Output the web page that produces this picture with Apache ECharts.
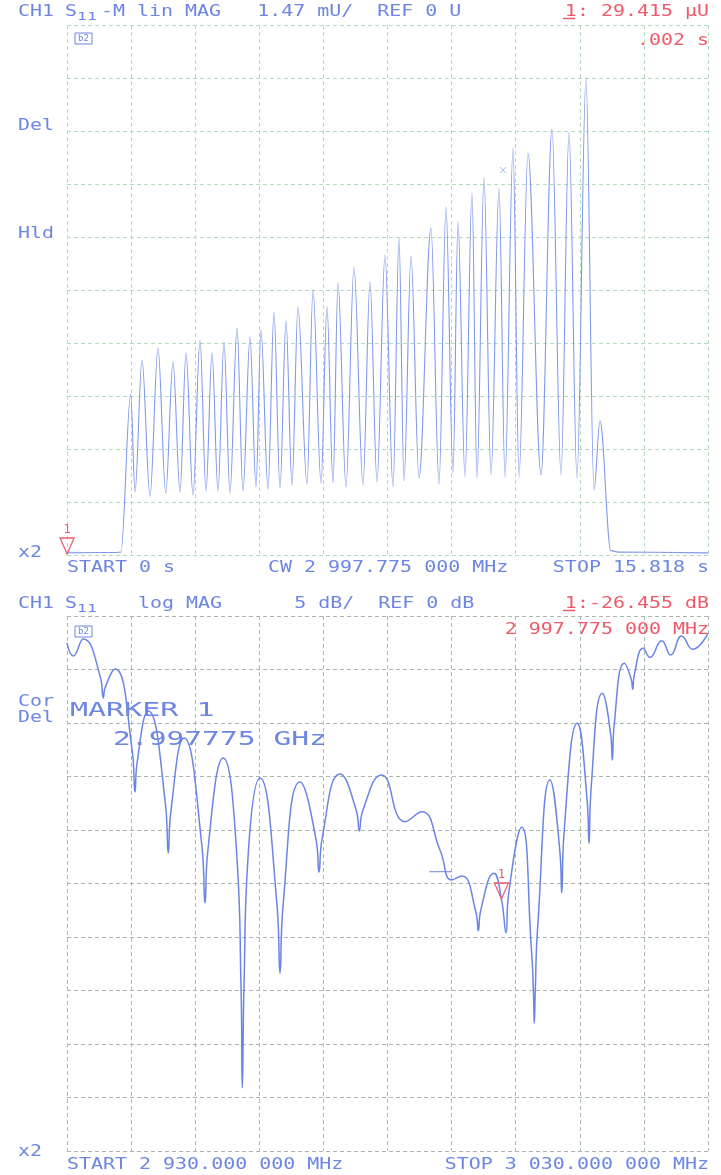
<!DOCTYPE html>
<html><head><meta charset="utf-8">
<script src="https://cdn.jsdelivr.net/npm/echarts@6/dist/echarts.min.js"></script>
<style>html,body{margin:0;padding:0;background:#fff}#c{width:721px;height:1175px}</style>
</head><body><div id="c"></div>
<script>
// ---------- Upper panel: S11 lin MAG vs time (mU) ----------
const topTime = [0, 1.20, 1.33,
  1.572, 1.678, 1.851, 2.048, 2.246, 2.436, 2.616, 2.789, 2.937, 3.109, 3.282, 3.430, 3.578, 3.726, 3.874, 4.022,
  4.195, 4.343, 4.516, 4.664, 4.787, 4.960, 5.108, 5.256, 5.404, 5.552, 5.700, 5.922, 6.071, 6.268, 6.416, 6.564,
  6.688, 6.885, 7.082, 7.304, 7.477, 7.650, 7.847, 8.045, 8.193, 8.316, 8.489, 8.686, 8.982, 9.180, 9.353, 9.525,
  9.649, 9.821, 9.994, 10.118, 10.290, 10.463, 10.660, 10.809, 11.006, 11.154, 11.376, 11.697, 11.968, 12.190,
  12.388, 12.585, 12.807, 13.005, 13.153,
  13.42, 13.60, 15.818];
const topMag = [0.06, 0.07, 0.08,
  4.466, 1.747, 5.408, 1.636, 5.741, 1.720, 5.353, 1.747, 5.603, 1.664, 5.963, 1.775, 5.603, 1.775, 5.908, 1.720,
  6.296, 1.775, 6.046, 1.886, 6.241, 1.831, 6.740, 1.858, 6.490, 1.942, 6.879, 1.969, 7.350, 1.997, 6.879, 1.997,
  7.544, 1.886, 7.988, 1.942, 7.572, 2.025, 8.321, 1.886, 8.792, 2.052, 8.293, 2.136, 9.070, 1.969, 9.652, 2.274,
  9.236, 2.163, 10.040, 2.136, 10.456, 2.219, 10.179, 2.163, 11.289, 2.163, 11.150, 2.219, 11.816, 2.219,
  11.732, 2.136, 13.230, 1.803, 3.717,
  0.12, 0.08, 0.06];
const topMarkerTime = [0.002];
const topMarkerMag = [0.029415];
const topMark2Time = [10.76];
const topMark2Mag = [10.68];
const topXMin = 0, topXMax = 15.818, topXStep = 1.5818;
const topYMin = 0, topYMax = 14.7, topYStep = 1.47;

// ---------- Lower panel: S11 log MAG vs frequency (dB) ----------
const botFreq = [2930.00, 2930.98, 2932.54, 2935.20, 2935.66, 2935.93, 2937.49, 2940.14, 2940.61, 2940.92,
  2942.68, 2945.34, 2945.80, 2946.18, 2948.25, 2951.03, 2951.53, 2951.95, 2954.38, 2956.47,
  2957.15, 2957.35, 2957.61, 2958.28, 2960.11, 2962.76, 2963.23, 2963.70, 2966.35, 2968.86,
  2969.31, 2969.81, 2972.59, 2975.15, 2975.60, 2976.13, 2979.10, 2982.73, 2985.34, 2988.19,
  2990.02, 2991.58, 2993.78, 2994.17, 2994.54, 2996.61, 2997.775, 2998.49, 2998.86, 3000.94,
  3002.46, 3002.76, 3002.90, 3003.06, 3003.40, 3005.35, 3006.91, 3007.18, 3007.54, 3009.61,
  3011.15, 3011.44, 3011.75, 3013.51, 3014.84, 3015.07, 3015.35, 3016.94, 3018.05, 3018.25,
  3018.50, 3019.91, 3020.95, 3022.78, 3024.18, 3025.90, 3027.61, 3030.00];
const botDb = [-2.52, -3.74, -2.15, -5.70, -7.66, -6.73, -4.95, -12.43, -16.45, -13.83,
  -8.88, -17.48, -22.15, -18.41, -11.40, -21.40, -26.82, -22.06, -13.27, -22.15,
  -34.67, -44.11, -34.67, -22.15, -15.14, -27.01, -33.36, -27.10, -15.51, -20.93,
  -23.93, -20.75, -14.77, -18.22, -20.07, -18.22, -14.86, -19.22, -18.29, -21.87,
  -24.67, -24.30, -27.66, -29.41, -27.53, -24.05, -26.455, -29.60, -26.17, -19.75,
  -31.21, -34.95, -38.07, -34.95, -29.35, -15.33, -22.15, -25.86, -20.28, -10.03,
  -17.29, -21.24, -16.26, -7.22, -11.21, -13.46, -10.28, -4.42, -5.98, -6.85,
  -5.51, -3.02, -3.86, -2.31, -3.64, -1.87, -3.11, -1.62];
const botMarkerFreq = [2997.775];
const botMarkerDb = [-26.455];
const botTickFreq = [2986.5, 2990.0];
const botTickDb = [-23.9, -23.9];
const botXMin = 2930, botXMax = 3030, botXStep = 10;
const botYMin = -50, botYMax = 0, botYStep = 5;

// ---------- styling ----------
const BLUE = '#6c86e2';
const RED = '#ee5a6a';
const FONT = '"DejaVu Sans Mono", monospace';

function txt(s, x, y, color, o) {
  o = o || {};
  const size = o.size || 15;
  return {
    type: 'text', x: x, y: y, scaleX: o.sx || 1.33, scaleY: o.sy || 1, silent: true, z: 100,
    style: { text: s, fill: color, fontSize: size, fontFamily: FONT, align: o.align || 'left', verticalAlign: 'middle' }
  };
}
function box(x, y) {
  return [
    { type: 'rect', shape: { x: x, y: y, width: 17, height: 11 }, style: { fill: 'none', stroke: BLUE, lineWidth: 1 }, silent: true },
    { type: 'text', x: x + 8.5, y: y + 5.8, silent: true, style: { text: 'b2', fill: BLUE, fontSize: 9, fontFamily: FONT, align: 'center', verticalAlign: 'middle' } }
  ];
}

const graphics = [
  // upper header
  txt('CH1', 18, 12, BLUE),
  txt('S', 65, 12, BLUE),
  txt('11', 77, 17.5, BLUE, { size: 11, sx: 1.5 }),
  txt('-M lin MAG   1.47 mU/  REF 0 U', 101, 12, BLUE),
  txt('1: 29.415 \u00b5U', 709, 12, RED, { align: 'right' }),
  { type: 'line', shape: { x1: 563, y1: 18.5, x2: 575, y2: 18.5 }, style: { stroke: RED, lineWidth: 1.5 }, silent: true },
  txt('.002 s', 709, 41, RED, { align: 'right' }),
  ...box(75, 33),
  txt('Del', 18, 126, BLUE),
  txt('Hld', 18, 234, BLUE),
  txt('x2', 18, 553, BLUE),
  txt('START 0 s', 67, 568, BLUE),
  txt('CW 2 997.775 000 MHz', 268, 568, BLUE),
  txt('STOP 15.818 s', 709, 568, BLUE, { align: 'right' }),
  // lower header
  txt('CH1', 18, 604, BLUE),
  txt('S', 65, 604, BLUE),
  txt('11', 77, 609.5, BLUE, { size: 11, sx: 1.5 }),
  txt('log MAG      5 dB/  REF 0 dB', 138, 604, BLUE),
  txt('1:-26.455 dB', 709, 604, RED, { align: 'right' }),
  { type: 'line', shape: { x1: 563, y1: 610.5, x2: 575, y2: 610.5 }, style: { stroke: RED, lineWidth: 1.5 }, silent: true },
  txt('2 997.775 000 MHz', 709, 630, RED, { align: 'right' }),
  ...box(75, 626),
  txt('Cor', 18, 702, BLUE),
  txt('Del', 18, 718, BLUE),
  txt('MARKER 1', 70, 711, BLUE, { size: 20, sx: 1.5 }),
  txt('2.997775 GHz', 113, 739.5, BLUE, { size: 20, sx: 1.48 }),
  txt('x2', 18, 1152, BLUE),
  txt('START 2 930.000 000 MHz', 67, 1165, BLUE),
  txt('STOP 3 030.000 000 MHz', 709, 1165, BLUE, { align: 'right' })
];

function xy(a, b) { return a.map((v, i) => [v, b[i]]); }

const markerSym = 'path://M0,0 L14,0 L7,16 Z';
function marker(px, py) {
  return {
    silent: true, animation: false,
    symbol: markerSym, symbolSize: [14, 16], symbolOffset: [0, '-50%'],
    itemStyle: { color: 'rgba(255,255,255,0)', borderColor: RED, borderWidth: 1.3 },
    label: { show: true, formatter: '1', position: 'top', distance: 1, color: RED, fontSize: 12, fontFamily: FONT },
    data: [{ coord: [px, py] }]
  };
}

function gridAxis(min, max, step, color) {
  return {
    type: 'value', min: min, max: max, interval: step,
    axisLabel: { show: false }, axisTick: { show: false }, axisLine: { show: false },
    splitLine: { show: true, lineStyle: { color: color, width: 1, type: [4, 3] } }
  };
}

const TOPGRID = '#b3dcbd';
const BOTGRID = '#a9b9ae';

const chart = echarts.init(document.getElementById('c'), null, { renderer: 'canvas' });
chart.setOption({
  animation: false,
  backgroundColor: '#ffffff',
  grid: [
    { left: 67, top: 25, width: 641, height: 530 },
    { left: 67, top: 616, width: 641, height: 535 }
  ],
  xAxis: [
    Object.assign(gridAxis(topXMin, topXMax, topXStep, TOPGRID), { gridIndex: 0 }),
    Object.assign(gridAxis(botXMin, botXMax, botXStep, BOTGRID), { gridIndex: 1 })
  ],
  yAxis: [
    Object.assign(gridAxis(topYMin, topYMax, topYStep, TOPGRID), { gridIndex: 0 }),
    Object.assign(gridAxis(botYMin, botYMax, botYStep, BOTGRID), { gridIndex: 1 })
  ],
  graphic: graphics,
  series: [
    {
      type: 'line', xAxisIndex: 0, yAxisIndex: 0, data: xy(topTime, topMag),
      showSymbol: false, symbol: 'none', smooth: 0.35, smoothMonotone: 'x',
      lineStyle: { color: '#7f99ec', width: 1.1 },
      markPoint: marker(topMarkerTime[0], topMarkerMag[0])
    },
    {
      type: 'scatter', xAxisIndex: 0, yAxisIndex: 0, data: xy(topMark2Time, topMark2Mag),
      symbol: 'path://M0,0 L8,8 M8,0 L0,8', symbolSize: 6, silent: true,
      itemStyle: { color: 'rgba(0,0,0,0)', borderColor: '#8ea6ee', borderWidth: 1 }
    },
    {
      type: 'line', xAxisIndex: 1, yAxisIndex: 1, data: xy(botFreq, botDb),
      showSymbol: false, symbol: 'none', smooth: 0.5,
      lineStyle: { color: '#6a85e4', width: 1.5 },
      markPoint: marker(botMarkerFreq[0], botMarkerDb[0])
    },
    {
      type: 'line', xAxisIndex: 1, yAxisIndex: 1, data: xy(botTickFreq, botTickDb),
      showSymbol: false, symbol: 'none', silent: true,
      lineStyle: { color: '#6a85e4', width: 1 }
    }
  ]
});
</script>
</body></html>
